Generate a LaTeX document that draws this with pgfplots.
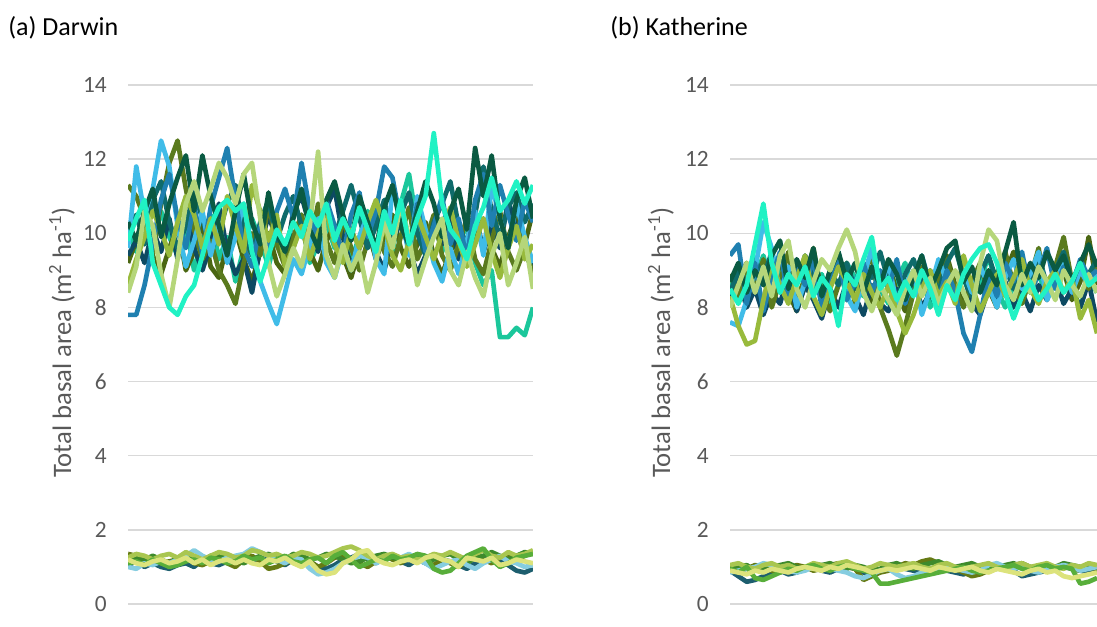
\documentclass[border=0pt]{standalone}
\usepackage{pgfplots}
\pgfplotsset{compat=1.18}
\usepackage{fontspec}
\setmainfont{Carlito}
\definecolor{cA}{HTML}{1F80B0}
\definecolor{cB}{HTML}{40BCE8}
\definecolor{cC}{HTML}{5A7A1E}
\definecolor{cD}{HTML}{0A5A42}
\definecolor{cE}{HTML}{0D4A62}
\definecolor{cF}{HTML}{B5D67A}
\definecolor{cG}{HTML}{20F2C4}
\definecolor{cH}{HTML}{1BC79B}
\definecolor{cI}{HTML}{98BA3C}
\definecolor{cJ}{HTML}{0F6B6B}
\definecolor{cK}{HTML}{4A6612}
\definecolor{lA}{HTML}{667A14}
\definecolor{lB}{HTML}{A9C650}
\definecolor{lC}{HTML}{58AE3A}
\definecolor{lD}{HTML}{86CDE0}
\definecolor{lE}{HTML}{1D5E6E}
\definecolor{lF}{HTML}{DCE37C}
\definecolor{lG}{HTML}{3E8A2C}
\definecolor{gridc}{HTML}{D9D9D9}
\definecolor{tickc}{HTML}{595959}
\pgfplotsset{
  panel/.style={scale only axis, height=389.25pt, ymin=0, ymax=14,
    ytick={0,2,...,14}, xtick=\empty, axis line style={draw=none},
    ymajorgrids, major grid style={draw=gridc, line width=1pt},
    major tick length=0pt,
    /pgf/number format/assume math mode=true,
    yticklabel style={font=\fontsize{17.5}{20}\selectfont, text=tickc, anchor=east, inner sep=0pt, xshift=-15.75pt},
    every axis plot/.append style={line width=3.5pt, line join=round, no markers}},
  ser/.style={/pgfplots/table/header=false, /pgfplots/table/x expr=\coordindex, /pgfplots/table/y index=0, /pgfplots/table/row sep=\\}
}
\begin{document}
\begin{tikzpicture}
\useasboundingbox (0,0) rectangle (822.75pt,-469.5pt);
\node[anchor=west, inner sep=0pt, font=\fontsize{19.5}{22}\selectfont] at (6pt,-21pt) {(a) Darwin};
\node[anchor=west, inner sep=0pt, font=\fontsize{19.5}{22}\selectfont] at (457.5pt,-21pt) {(b) Katherine};
\node[rotate=90, inner sep=0pt, text=tickc, font=\fontsize{20}{22}\selectfont] at (46.5pt,-257pt) {Total basal area (m\textsuperscript{2} ha\textsuperscript{-1})};
\node[rotate=90, inner sep=0pt, text=tickc, font=\fontsize{20}{22}\selectfont] at (495.75pt,-257pt) {Total basal area (m\textsuperscript{2} ha\textsuperscript{-1})};
% ---------------- Darwin ----------------
\begin{axis}[panel, at={(96pt,-453pt)}, anchor=south west, width=303.75pt, xmin=0, xmax=49]
\addplot[lE] table[ser] {1.05\\1.15\\1.0\\1.1\\1.0\\0.95\\1.05\\1.1\\1.0\\1.2\\1.1\\1.05\\1.15\\1.25\\1.3\\1.2\\1.1\\1.25\\1.15\\1.05\\1.2\\1.1\\1.15\\1.0\\0.95\\1.05\\1.2\\1.25\\1.35\\1.2\\1.1\\1.25\\1.3\\1.15\\1.05\\1.2\\1.1\\1.0\\1.2\\1.15\\1.05\\0.95\\1.1\\1.2\\1.3\\1.15\\1.05\\0.9\\0.85\\0.95\\};
\addplot[lA] table[ser] {1.35\\1.3\\1.2\\1.25\\1.1\\1.15\\1.2\\1.3\\1.1\\1.05\\1.15\\1.25\\1.1\\1.0\\1.2\\1.3\\1.15\\0.95\\1.0\\1.1\\1.2\\1.3\\1.15\\1.0\\1.1\\1.25\\1.3\\1.2\\1.1\\1.0\\1.15\\1.3\\1.2\\1.1\\1.25\\1.3\\1.15\\1.05\\1.2\\1.1\\1.0\\1.15\\1.3\\1.2\\1.1\\1.25\\1.35\\1.2\\1.3\\1.4\\};
\addplot[lG] table[ser] {1.15\\1.25\\1.2\\1.3\\1.2\\1.1\\1.25\\1.3\\1.2\\1.15\\1.3\\1.35\\1.25\\1.2\\1.1\\1.2\\1.3\\1.35\\1.25\\1.2\\1.35\\1.3\\1.2\\1.25\\1.35\\1.3\\1.2\\1.1\\1.15\\1.25\\1.3\\1.35\\1.25\\1.2\\1.3\\1.25\\1.15\\1.2\\1.3\\1.35\\1.2\\1.1\\1.25\\1.3\\1.4\\1.3\\1.2\\1.3\\1.4\\1.35\\};
\addplot[lD] table[ser] {1.0\\0.95\\1.1\\1.05\\1.15\\1.1\\1.2\\1.3\\1.45\\1.3\\1.2\\1.15\\1.25\\1.3\\1.35\\1.5\\1.4\\1.3\\1.2\\1.1\\1.25\\1.2\\0.95\\0.8\\0.85\\0.95\\1.1\\1.2\\1.3\\1.25\\1.1\\1.2\\1.3\\1.25\\1.35\\1.2\\1.1\\0.95\\1.05\\1.15\\1.2\\1.05\\0.95\\1.1\\1.2\\1.3\\1.15\\1.1\\1.0\\1.05\\};
\addplot[lB] table[ser] {1.25\\1.35\\1.3\\1.2\\1.3\\1.35\\1.25\\1.4\\1.3\\1.2\\1.3\\1.4\\1.35\\1.25\\1.3\\1.45\\1.4\\1.3\\1.35\\1.25\\1.3\\1.4\\1.35\\1.25\\1.3\\1.4\\1.5\\1.55\\1.45\\1.3\\1.2\\1.3\\1.35\\1.25\\1.3\\1.2\\1.25\\1.35\\1.3\\1.4\\1.3\\1.2\\1.35\\1.45\\1.3\\1.25\\1.4\\1.3\\1.35\\1.45\\};
\addplot[lC] table[ser] {1.1\\1.15\\1.05\\1.2\\1.1\\1.0\\1.05\\1.15\\1.2\\1.1\\1.25\\1.2\\1.1\\1.15\\1.3\\1.2\\1.25\\1.1\\1.2\\1.3\\1.15\\1.1\\1.2\\1.25\\1.1\\1.3\\1.4\\1.2\\1.0\\1.1\\1.2\\1.15\\1.3\\1.2\\1.25\\1.35\\1.3\\0.95\\0.85\\0.9\\1.1\\1.3\\1.4\\1.5\\1.2\\1.0\\1.1\\1.25\\1.3\\1.35\\};
\addplot[lF] table[ser] {1.2\\1.1\\1.05\\1.15\\1.2\\1.1\\1.15\\1.25\\1.1\\1.2\\1.05\\1.15\\1.2\\1.1\\1.2\\1.1\\1.05\\1.2\\1.15\\1.25\\1.1\\1.0\\1.15\\0.9\\0.8\\0.85\\1.1\\1.2\\1.4\\1.45\\1.2\\1.1\\1.05\\1.15\\1.2\\1.1\\1.25\\1.3\\1.2\\1.15\\1.0\\1.25\\1.2\\1.15\\1.25\\1.05\\1.1\\1.2\\1.15\\1.1\\};
% upper band
\addplot[cH] table[ser] {10.1\\9.5\\10.3\\9.7\\10.6\\9.9\\9.4\\10.2\\9.0\\9.8\\10.5\\9.3\\9.9\\8.7\\9.6\\10.4\\9.8\\9.1\\10.0\\9.4\\9.8\\10.5\\9.2\\9.7\\10.3\\9.6\\10.1\\9.3\\9.9\\10.6\\9.4\\10.0\\9.5\\10.8\\11.6\\10.2\\9.7\\10.4\\9.5\\10.1\\9.6\\10.3\\9.2\\8.6\\9.0\\7.2\\7.2\\7.45\\7.25\\8.0\\};
\addplot[cK] table[ser] {9.2\\9.8\\10.5\\9.4\\8.9\\9.6\\10.2\\9.0\\9.5\\10.3\\9.1\\8.8\\9.7\\10.1\\9.3\\8.7\\9.5\\10.0\\9.2\\8.9\\9.6\\10.4\\9.5\\9.0\\9.8\\10.2\\9.4\\8.8\\9.6\\10.1\\9.3\\9.9\\10.5\\9.6\\9.1\\9.7\\10.3\\9.4\\8.9\\9.5\\10.0\\9.2\\9.8\\10.4\\9.6\\9.1\\9.9\\10.5\\9.7\\10.6\\};
\addplot[cE] table[ser] {9.4\\9.8\\9.2\\10.1\\9.5\\10.4\\9.3\\10.6\\9.6\\9.0\\9.7\\10.8\\9.5\\8.9\\9.3\\8.4\\9.6\\10.5\\9.8\\9.2\\10.6\\11.0\\10.2\\9.5\\10.7\\11.2\\9.9\\9.1\\9.7\\10.4\\9.5\\9.0\\9.8\\10.3\\9.6\\8.9\\9.4\\10.2\\9.7\\10.5\\9.3\\9.8\\10.6\\9.5\\10.2\\9.6\\10.9\\10.1\\9.4\\9.1\\};
\addplot[cC] table[ser] {11.3\\11.0\\10.4\\9.5\\10.8\\11.9\\12.5\\11.2\\10.1\\9.3\\9.8\\9.0\\8.6\\8.1\\9.2\\10.0\\9.4\\10.8\\9.7\\9.1\\9.9\\10.5\\9.6\\10.8\\9.8\\9.2\\10.4\\9.6\\9.0\\9.8\\10.6\\9.5\\9.1\\9.9\\10.7\\9.3\\9.8\\10.5\\9.4\\9.0\\9.7\\10.4\\9.3\\8.9\\9.8\\10.6\\9.5\\9.0\\9.6\\8.9\\};
\addplot[cJ] table[ser] {10.0\\10.5\\9.7\\10.9\\11.4\\10.3\\9.6\\10.2\\11.1\\10.4\\9.5\\10.0\\10.8\\11.3\\10.1\\9.4\\10.3\\10.9\\9.8\\10.5\\11.0\\10.2\\9.3\\10.1\\10.7\\9.9\\10.6\\11.3\\10.4\\9.6\\10.2\\10.9\\9.8\\10.5\\11.1\\10.0\\9.4\\10.3\\10.8\\11.4\\10.2\\9.7\\10.5\\11.8\\10.6\\9.9\\10.7\\11.1\\10.3\\10.8\\};
\addplot[cB] table[ser] {9.6\\11.8\\10.5\\11.2\\12.5\\11.8\\10.2\\9.1\\9.8\\10.6\\9.4\\10.3\\9.2\\9.9\\10.8\\9.6\\8.7\\8.1\\7.55\\8.4\\9.3\\8.9\\9.7\\10.4\\9.2\\8.8\\9.6\\9.0\\9.9\\10.5\\9.3\\8.9\\11.2\\10.6\\9.4\\11.0\\10.1\\9.2\\8.7\\9.6\\8.9\\9.8\\10.6\\9.4\\11.3\\10.4\\9.6\\10.8\\9.9\\9.2\\};
\addplot[cA] table[ser] {7.8\\7.8\\8.6\\9.7\\10.9\\11.6\\10.4\\9.6\\10.8\\9.4\\10.7\\11.5\\12.3\\10.9\\9.6\\9.1\\10.2\\9.5\\10.6\\11.2\\10.4\\11.9\\10.6\\9.8\\10.9\\10.2\\9.4\\10.5\\11.1\\9.9\\10.6\\11.8\\11.5\\10.3\\9.6\\10.8\\9.5\\10.2\\11.0\\9.7\\10.4\\9.3\\10.9\\11.6\\10.2\\11.3\\10.5\\9.8\\10.9\\10.3\\};
\addplot[cI] table[ser] {8.6\\9.3\\9.9\\10.6\\10.1\\9.4\\10.3\\11.0\\10.5\\9.6\\10.4\\9.7\\11.0\\10.2\\9.5\\11.3\\10.6\\9.8\\10.5\\9.1\\9.6\\10.2\\9.3\\10.0\\10.6\\9.7\\9.2\\10.1\\9.6\\10.3\\10.9\\10.2\\9.4\\9.0\\9.8\\10.5\\9.9\\9.3\\10.0\\10.7\\9.8\\9.1\\9.7\\10.4\\9.5\\8.8\\9.6\\10.2\\9.3\\9.7\\};
\addplot[cD] table[ser] {10.3\\9.8\\10.6\\11.2\\9.9\\10.8\\11.5\\12.1\\10.6\\12.1\\11.0\\10.2\\9.4\\10.6\\11.6\\10.3\\9.7\\11.1\\10.0\\9.5\\10.4\\11.2\\10.1\\9.6\\10.9\\11.4\\10.5\\9.8\\11.0\\10.3\\9.6\\10.7\\11.3\\10.2\\9.7\\10.6\\11.4\\10.8\\9.9\\10.6\\11.2\\10.1\\12.3\\11.0\\12.1\\10.4\\9.6\\10.9\\11.5\\10.4\\};
\addplot[cF] table[ser] {8.4\\9.1\\10.6\\10.2\\8.9\\8.0\\9.3\\10.8\\11.4\\10.6\\11.2\\11.9\\11.5\\10.8\\11.6\\11.9\\10.4\\9.2\\8.3\\8.9\\9.6\\9.1\\10.2\\12.2\\9.4\\8.8\\9.7\\9.0\\9.5\\8.4\\9.2\\10.3\\9.6\\10.8\\9.9\\8.6\\9.3\\9.9\\10.4\\9.0\\8.6\\9.5\\8.8\\8.3\\9.4\\10.0\\8.6\\9.2\\9.9\\8.5\\};
\addplot[cG] table[ser] {9.8\\10.4\\10.9\\9.2\\8.6\\8.0\\7.8\\8.3\\8.6\\9.4\\10.2\\10.7\\10.9\\10.6\\10.8\\9.5\\8.7\\9.4\\10.1\\9.7\\10.3\\9.9\\10.6\\10.2\\10.8\\9.8\\10.4\\9.9\\10.7\\10.1\\9.5\\10.6\\10.0\\10.9\\9.7\\10.4\\11.0\\12.7\\10.8\\10.1\\9.8\\9.3\\10.2\\10.7\\11.5\\10.6\\10.9\\11.4\\10.8\\11.3\\};
\end{axis}
% ---------------- Katherine ----------------
\begin{axis}[panel, at={(547.5pt,-453pt)}, anchor=south west, width=275.25pt, xmin=0, xmax=44]
\addplot[lE] table[ser] {0.9\\0.75\\0.6\\0.65\\0.75\\0.85\\0.9\\0.8\\0.85\\0.95\\1.0\\0.9\\0.85\\0.95\\1.0\\0.95\\0.85\\0.8\\0.9\\0.95\\1.0\\0.95\\0.9\\0.85\\0.95\\1.0\\0.9\\0.85\\0.8\\0.9\\0.95\\1.0\\1.05\\0.95\\0.9\\0.75\\0.8\\0.85\\0.9\\0.95\\1.0\\0.95\\0.9\\0.85\\0.9\\};
\addplot[lA] table[ser] {1.0\\0.9\\0.95\\1.05\\1.0\\0.9\\0.85\\0.95\\1.05\\1.0\\0.9\\0.95\\1.05\\1.1\\1.0\\0.95\\0.65\\0.75\\0.85\\0.9\\1.0\\1.1\\1.05\\1.15\\1.2\\1.1\\1.0\\0.95\\0.85\\0.75\\0.8\\0.9\\1.0\\0.95\\1.05\\1.1\\1.0\\0.9\\0.95\\1.0\\1.05\\0.95\\0.9\\1.0\\0.95\\};
\addplot[lG] table[ser] {0.95\\1.0\\1.05\\0.9\\0.95\\1.0\\1.05\\1.1\\1.0\\0.95\\1.0\\1.05\\1.1\\1.0\\0.95\\1.05\\1.0\\0.9\\0.95\\1.05\\1.1\\1.0\\0.95\\1.05\\1.1\\1.15\\1.05\\1.0\\1.05\\1.1\\1.0\\0.95\\1.0\\1.05\\1.1\\1.0\\0.95\\1.0\\1.05\\1.0\\1.1\\1.05\\1.0\\0.95\\1.0\\};
\addplot[lD] table[ser] {0.85\\0.9\\0.95\\1.0\\1.1\\1.05\\0.95\\0.9\\0.85\\0.9\\1.0\\1.05\\0.95\\0.9\\0.85\\0.75\\0.7\\0.8\\0.9\\0.95\\0.8\\0.7\\0.75\\0.85\\0.9\\0.95\\1.0\\0.95\\0.9\\0.85\\0.9\\1.05\\1.1\\1.0\\0.95\\1.0\\0.9\\0.85\\0.95\\1.0\\1.05\\1.0\\0.9\\0.95\\1.0\\};
\addplot[lB] table[ser] {1.05\\1.1\\1.0\\0.95\\1.05\\1.1\\1.0\\1.05\\0.95\\1.0\\1.1\\1.05\\1.0\\1.1\\1.15\\1.05\\0.95\\1.0\\1.1\\1.05\\1.0\\1.05\\1.1\\1.0\\0.95\\1.05\\1.1\\1.0\\0.95\\1.0\\1.05\\1.1\\1.0\\0.95\\1.05\\1.1\\1.0\\1.05\\1.1\\1.0\\0.95\\1.05\\1.0\\1.1\\1.05\\};
\addplot[lC] table[ser] {0.95\\0.85\\1.0\\0.7\\0.65\\0.75\\0.85\\0.95\\0.9\\1.0\\1.05\\0.95\\0.9\\1.0\\1.05\\0.95\\0.9\\0.85\\0.55\\0.55\\0.6\\0.65\\0.7\\0.75\\0.8\\0.85\\0.9\\0.95\\1.0\\0.9\\0.85\\0.9\\0.95\\1.0\\1.05\\0.95\\0.9\\1.0\\1.05\\0.95\\1.0\\0.95\\0.55\\0.6\\0.7\\};
\addplot[lF] table[ser] {0.9\\0.85\\0.8\\0.9\\0.85\\0.95\\0.9\\0.85\\0.95\\1.0\\0.95\\0.9\\1.0\\0.95\\1.05\\1.0\\0.95\\0.85\\0.9\\0.95\\0.9\\0.95\\1.0\\0.95\\0.9\\1.0\\0.95\\0.9\\0.95\\1.0\\0.9\\0.85\\0.95\\0.9\\0.85\\0.8\\0.9\\0.95\\0.85\\0.9\\0.75\\0.7\\0.75\\0.8\\0.85\\};
% upper band
\addplot[cH] table[ser] {8.6\\9.0\\8.3\\8.8\\9.4\\8.5\\9.1\\8.2\\8.7\\9.3\\8.4\\8.9\\8.1\\8.6\\9.2\\8.8\\8.3\\9.0\\8.5\\8.1\\8.7\\9.2\\8.4\\8.9\\8.0\\8.6\\9.1\\8.3\\8.8\\8.2\\8.7\\9.4\\8.5\\8.0\\8.6\\9.0\\8.4\\8.9\\8.3\\8.7\\9.2\\8.5\\8.0\\8.8\\8.4\\};
\addplot[cK] table[ser] {8.1\\8.7\\9.2\\8.5\\8.0\\8.8\\9.3\\8.4\\7.9\\8.6\\9.1\\8.3\\8.8\\9.4\\8.2\\8.7\\9.0\\8.1\\8.6\\9.2\\8.4\\7.9\\8.5\\9.0\\8.3\\8.8\\9.4\\8.6\\8.1\\8.7\\9.1\\8.5\\8.0\\8.9\\9.5\\8.3\\8.8\\9.3\\8.4\\8.9\\9.0\\8.2\\8.7\\9.9\\8.6\\};
\addplot[cE] table[ser] {8.2\\8.8\\8.0\\8.5\\7.8\\8.4\\8.1\\8.9\\7.9\\8.6\\8.2\\7.7\\8.5\\8.0\\8.7\\8.3\\7.8\\8.6\\8.1\\7.9\\8.5\\8.2\\8.8\\8.0\\8.4\\7.9\\8.6\\8.3\\8.9\\8.1\\7.8\\8.5\\8.2\\8.7\\8.0\\8.4\\7.9\\8.6\\8.2\\8.8\\8.1\\8.5\\8.0\\8.7\\7.6\\};
\addplot[cC] table[ser] {8.9\\8.3\\9.1\\8.5\\9.3\\8.0\\8.7\\9.5\\8.2\\8.8\\9.6\\8.4\\7.9\\8.6\\9.2\\8.1\\8.9\\9.4\\8.0\\7.4\\6.7\\7.5\\8.4\\9.1\\8.3\\8.8\\9.3\\8.5\\8.0\\8.7\\9.2\\8.4\\8.9\\9.5\\8.6\\8.1\\8.8\\9.6\\8.3\\9.1\\9.9\\8.7\\9.0\\8.5\\9.3\\};
\addplot[cJ] table[ser] {8.4\\9.0\\8.6\\9.3\\8.8\\9.5\\8.5\\9.1\\8.7\\9.4\\8.9\\8.3\\9.0\\8.6\\9.2\\8.5\\9.1\\8.8\\9.5\\8.7\\8.2\\8.9\\9.3\\8.6\\9.0\\8.4\\9.2\\9.6\\8.8\\8.3\\8.9\\9.4\\8.7\\9.1\\8.5\\9.2\\8.8\\9.4\\8.6\\9.0\\9.5\\8.7\\9.1\\8.9\\9.3\\};
\addplot[cB] table[ser] {7.6\\7.5\\8.2\\9.0\\10.3\\9.6\\8.4\\9.1\\8.0\\8.7\\9.4\\8.2\\8.9\\9.5\\8.3\\7.9\\8.8\\9.6\\8.5\\9.2\\8.1\\8.6\\9.0\\7.8\\8.5\\9.3\\8.7\\8.2\\9.0\\8.4\\9.1\\8.6\\8.0\\8.8\\9.3\\8.5\\8.9\\9.5\\8.2\\8.7\\9.2\\8.4\\9.0\\8.6\\8.9\\};
\addplot[cA] table[ser] {9.4\\9.7\\8.1\\9.2\\7.9\\8.8\\9.5\\8.3\\9.1\\8.6\\9.3\\8.0\\8.9\\9.4\\8.2\\8.7\\9.2\\8.4\\9.0\\8.5\\9.3\\8.1\\8.8\\9.4\\8.6\\8.2\\9.0\\8.4\\7.3\\6.8\\7.8\\8.9\\8.3\\9.2\\8.7\\9.5\\8.4\\8.9\\9.6\\8.5\\9.1\\8.6\\9.3\\8.8\\9.0\\};
\addplot[cI] table[ser] {8.3\\7.5\\7.0\\7.1\\8.2\\9.2\\8.6\\8.1\\8.8\\9.4\\8.3\\7.8\\8.5\\9.1\\8.7\\8.2\\8.9\\8.4\\8.0\\8.6\\7.9\\7.3\\7.8\\8.5\\9.0\\8.3\\8.7\\8.1\\9.4\\8.6\\7.9\\8.4\\8.9\\8.3\\8.8\\9.3\\8.5\\8.1\\8.7\\9.0\\8.4\\8.8\\7.7\\8.2\\7.3\\};
\addplot[cD] table[ser] {8.7\\9.2\\8.4\\9.0\\8.6\\9.4\\9.8\\8.5\\9.3\\8.8\\9.6\\8.3\\9.0\\9.5\\8.7\\9.2\\8.4\\9.1\\8.6\\9.3\\8.9\\8.2\\8.8\\9.4\\8.5\\9.0\\9.6\\9.8\\8.7\\9.1\\8.4\\9.0\\8.6\\9.5\\10.3\\8.6\\9.2\\8.8\\9.5\\9.0\\9.4\\8.7\\9.2\\9.7\\9.1\\};
\addplot[cF] table[ser] {8.0\\8.6\\9.2\\8.4\\9.1\\8.3\\9.4\\9.8\\8.5\\8.0\\8.7\\9.3\\9.0\\9.6\\10.1\\9.5\\8.4\\7.9\\8.6\\8.2\\7.8\\8.5\\9.0\\8.3\\8.8\\8.1\\8.6\\9.0\\8.4\\7.9\\9.2\\10.1\\9.8\\8.6\\8.2\\8.9\\8.4\\9.1\\8.7\\8.2\\9.0\\8.6\\8.3\\8.9\\8.4\\};
\addplot[cG] table[ser] {8.5\\8.1\\8.6\\9.7\\10.8\\9.2\\8.4\\8.9\\8.6\\9.1\\8.3\\8.8\\8.5\\7.5\\8.9\\8.6\\9.3\\9.9\\8.5\\8.8\\8.2\\8.7\\8.3\\9.0\\8.5\\7.8\\8.6\\8.2\\8.9\\9.3\\9.6\\9.7\\9.2\\8.4\\7.7\\8.3\\8.7\\8.2\\8.5\\8.9\\8.4\\8.7\\9.2\\8.6\\8.8\\};
\end{axis}
\end{tikzpicture}
\end{document}
